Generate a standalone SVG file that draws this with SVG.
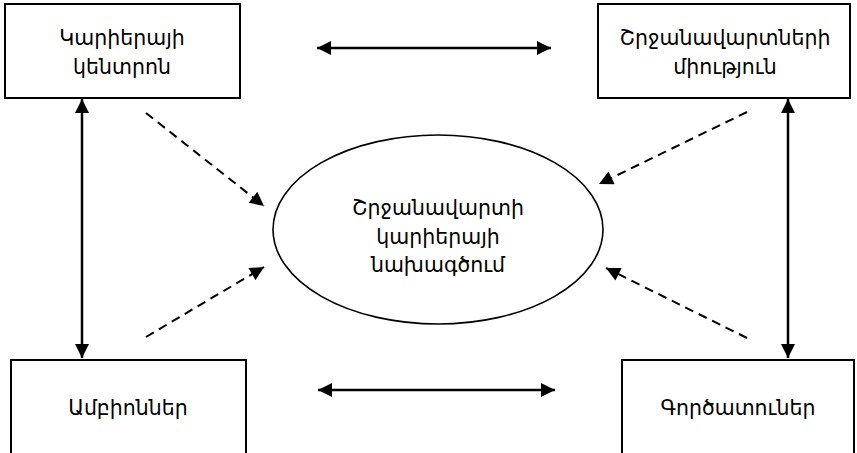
<svg xmlns="http://www.w3.org/2000/svg" width="857" height="453" viewBox="0 0 857 453">
<defs>
<style>
.box{fill:#fff;stroke:#000;stroke-width:2}
.ell{fill:#fff;stroke:#000;stroke-width:1.6}
.t{font-family:"DejaVu Sans","Noto Sans",sans-serif;font-size:20.5px;fill:#000;text-anchor:middle}
.solid{stroke:#000;stroke-width:2.5;fill:none}
.dash{stroke:#000;stroke-width:2;fill:none;stroke-dasharray:9 6}
</style>
<marker id="ah" viewBox="0 0 10 10" refX="10" refY="5" markerUnits="userSpaceOnUse" markerWidth="15" markerHeight="14" orient="auto-start-reverse">
<path d="M0,0 L10,5 L0,10 Z" fill="#000"/>
</marker>
</defs>
<rect width="857" height="453" fill="#fff"/>
<g id="n-center">
<ellipse class="ell" cx="438" cy="229.5" rx="165" ry="94.5"/>
<text class="t" x="438" y="215">Շրջանավարտի</text>
<text class="t" x="438" y="244">կարիերայի</text>
<text class="t" x="438" y="272">նախագծում</text>
</g>
<g id="n-career">
<rect class="box" x="5" y="4" width="235" height="94"/>
<text class="t" x="122" y="45">Կարիերայի</text>
<text class="t" x="122" y="74">կենտրոն</text>
</g>
<g id="n-union">
<rect class="box" x="598" y="4" width="252" height="94"/>
<text class="t" x="725" y="45">Շրջանավարտների</text>
<text class="t" x="725" y="74">միություն</text>
</g>
<g id="n-chairs">
<rect class="box" x="11" y="360" width="235" height="100"/>
<text class="t" x="128" y="415">Ամբիոններ</text>
</g>
<g id="n-employers">
<rect class="box" x="622" y="360" width="232" height="100"/>
<text class="t" x="738" y="415">Գործատուներ</text>
</g>
<g id="connectors">
<line class="solid" x1="317" y1="48" x2="551" y2="48" marker-start="url(#ah)" marker-end="url(#ah)"/>
<line class="solid" x1="318" y1="390" x2="555" y2="390" marker-start="url(#ah)" marker-end="url(#ah)"/>
<line class="solid" x1="82" y1="99" x2="82" y2="358" marker-start="url(#ah)" marker-end="url(#ah)"/>
<line class="solid" x1="788" y1="99" x2="788" y2="358" marker-start="url(#ah)" marker-end="url(#ah)"/>
<line class="dash" x1="146" y1="113" x2="264" y2="206" marker-end="url(#ah)"/>
<line class="dash" x1="146" y1="337" x2="264" y2="267" marker-end="url(#ah)"/>
<line class="dash" x1="747" y1="112" x2="599" y2="184" marker-end="url(#ah)"/>
<line class="dash" x1="747" y1="338" x2="606" y2="268" marker-end="url(#ah)"/>
</g>
</svg>
